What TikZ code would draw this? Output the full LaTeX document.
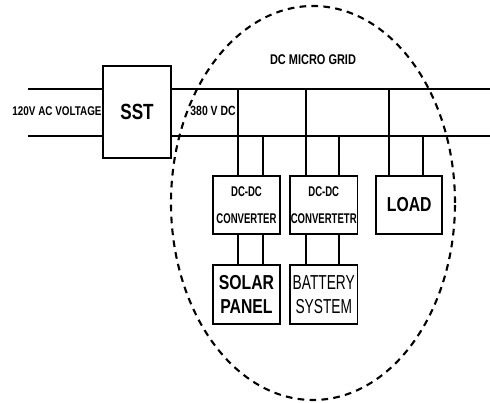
\documentclass[tikz,border=0pt]{standalone}
\usepackage{fontspec}
\newfontfamily\gridfont[FakeStretch=0.78]{Liberation Sans}
\newfontfamily\gridthin[FakeStretch=0.68]{Liberation Sans}
\usetikzlibrary{positioning,calc}
\tikzset{
  blk/.style={draw=black,line width=1pt,inner sep=0pt,align=center,
    minimum width=1.35cm,minimum height=1.16cm},
  wire/.style={draw=black,line width=1pt},
  zone/.style={draw=black,line width=1.2pt,dash pattern=on 3.8pt off 3pt},
  lbl/.style={inner sep=0pt,font=\gridfont\bfseries\fontsize{7.2}{8}\selectfont},
  convtxt/.style={font=\gridthin\bfseries\fontsize{8}{15.3}\selectfont},
}
\begin{document}
\begin{tikzpicture}
\useasboundingbox (0,0) rectangle (9.8,8.06);
% micro grid boundary
\draw[zone] (6.26,4.0) ellipse [x radius=2.84, y radius=3.94];
\node[blk,minimum width=1.36cm,minimum height=1.84cm,
  font=\gridfont\bfseries\fontsize{12.5}{14}\selectfont] (sst) at (2.74,5.82) {SST};
\node[blk,convtxt] (conv1) at (4.93,3.96) {DC-DC\\CONVERTER};
\node[blk,convtxt,right=0.16cm of conv1] (conv2) {DC-DC\\CONVERTETR};
\node[blk,right=0.34cm of conv2,minimum width=1.32cm,
  font=\gridfont\bfseries\fontsize{11.5}{13}\selectfont] (load) {LOAD};
\node[blk,below=0.58cm of conv1,minimum height=1.18cm,
  font=\gridfont\bfseries\fontsize{11.5}{13.6}\selectfont] (solar) {SOLAR\\PANEL};
\node[blk,below=0.58cm of conv2,minimum height=1.18cm,
  font=\gridthin\fontsize{11.5}{13.6}\selectfont] (batt) {BATTERY\\SYSTEM};
% labels
\node[lbl] (acv) at (1.14,5.84) {120V AC VOLTAGE};
\node[lbl,font=\gridfont\bfseries\fontsize{7.6}{8}\selectfont] (dcv) at (4.26,5.84) {380 V DC};
\node[lbl,font=\gridfont\bfseries\fontsize{8}{9}\selectfont] (grid) at (6.26,6.86) {DC MICRO GRID};
% bus ends
\coordinate (acP) at (0.56,6.28);
\coordinate (acN) at (0.56,5.34);
\coordinate (dcP) at (9.8,6.28);
\coordinate (dcN) at (9.8,5.34);
\draw[wire] (acP) -- (acP -| sst.west);
\draw[wire] (acN) -- (acN -| sst.west);
\draw[wire] (dcP -| sst.east) -- (dcP);
\draw[wire] (dcN -| sst.east) -- (dcN);
% taps on the dc bus
\coordinate (p1) at (4.76,6.28);
\coordinate (n1) at (5.26,5.34);
\coordinate (p2) at (6.12,6.28);
\coordinate (n2) at (6.78,5.34);
\coordinate (p3) at (7.78,6.28);
\coordinate (n3) at (8.46,5.34);
\foreach \i/\b in {1/conv1,2/conv2,3/load}{
  \draw[wire] (p\i) -- (p\i |- \b.north);
  \draw[wire] (n\i) -- (n\i |- \b.north);
}
\foreach \i/\b/\s in {1/conv1/solar,2/conv2/batt}{
  \draw[wire] (p\i |- \b.south) -- (p\i |- \s.north);
  \draw[wire] (n\i |- \b.south) -- (n\i |- \s.north);
}
\end{tikzpicture}
\end{document}
